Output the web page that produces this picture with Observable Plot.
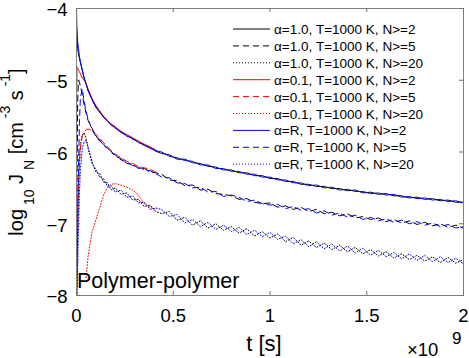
<!DOCTYPE html>
<html><head><meta charset="utf-8">
<script src="https://cdn.jsdelivr.net/npm/d3@7"></script>
<script src="https://cdn.jsdelivr.net/npm/@observablehq/plot@0.6"></script>
<style>body{margin:0;background:#fff;}</style>
</head><body><div id="chart"></div>
<script>
// time in units of 1e9 s
const time = [0, 0.003, 0.006, 0.01, 0.015, 0.02, 0.03, 0.04, 0.05, 0.06, 0.08, 0.10, 0.12, 0.14, 0.16, 0.18, 0.20, 0.23, 0.26, 0.29, 0.32, 0.35, 0.38, 0.41,
  0.44, 0.48, 0.52, 0.56, 0.60, 0.64, 0.68, 0.72, 0.76, 0.80, 0.84, 0.88, 0.92, 0.96, 1.00, 1.04, 1.08, 1.12, 1.16, 1.20,
  1.24, 1.28, 1.32, 1.36, 1.40, 1.44, 1.48, 1.52, 1.56, 1.60, 1.64, 1.68, 1.72, 1.76, 1.80, 1.84, 1.88, 1.92, 1.96, 2.00];

// alpha = 1.0
const a10_N2 = [-4.00, -4.42, -4.56, -4.63, -4.69, -4.75, -4.86, -4.98, -5.05, -5.15, -5.26, -5.38, -5.43, -5.52, -5.56, -5.63, -5.65, -5.73, -5.76, -5.82, -5.85, -5.91, -5.93, -5.99,
  -6.02, -6.04, -6.10, -6.10, -6.15, -6.16, -6.20, -6.21, -6.25, -6.25, -6.29, -6.29, -6.33, -6.33, -6.37, -6.37, -6.41, -6.41, -6.45, -6.45,
  -6.48, -6.48, -6.51, -6.51, -6.54, -6.53, -6.57, -6.56, -6.59, -6.58, -6.61, -6.61, -6.64, -6.63, -6.66, -6.65, -6.68, -6.67, -6.70, -6.70];
const a10_N5 = [-7.80, -6.40, -5.30, -5.00, -5.03, -5.08, -5.20, -5.35, -5.46, -5.56, -5.67, -5.77, -5.85, -5.89, -5.96, -5.99, -6.06, -6.09, -6.16, -6.17, -6.23, -6.23, -6.28, -6.29,
  -6.31, -6.39, -6.40, -6.47, -6.46, -6.53, -6.52, -6.58, -6.59, -6.61, -6.66, -6.65, -6.70, -6.72, -6.71, -6.77, -6.75, -6.80, -6.77, -6.83,
  -6.80, -6.86, -6.84, -6.89, -6.86, -6.92, -6.90, -6.94, -6.92, -6.97, -6.94, -6.99, -6.96, -7.01, -6.98, -7.03, -7.00, -7.05, -7.02, -7.06];
const a10_N20 = [-8.30, -7.50, -6.90, -6.40, -6.10, -5.90, -5.76, -5.73, -5.82, -5.95, -6.13, -6.28, -6.30, -6.42, -6.43, -6.53, -6.50, -6.59, -6.57, -6.67, -6.66, -6.76, -6.74, -6.83,
  -6.86, -6.83, -6.95, -6.91, -7.02, -6.96, -7.06, -7.00, -7.09, -7.04, -7.13, -7.07, -7.17, -7.11, -7.20, -7.14, -7.25, -7.19, -7.30, -7.24,
  -7.33, -7.27, -7.36, -7.30, -7.39, -7.33, -7.42, -7.36, -7.45, -7.39, -7.48, -7.42, -7.50, -7.44, -7.52, -7.46, -7.54, -7.47, -7.55, -7.50];

// alpha = 0.1 (shorter run)
const a01_N2 = [-5.30, -4.82, -4.83, -4.85, -4.88, -4.91, -4.97, -5.00, -5.05, -5.12, -5.25, -5.35, -5.43, -5.50, -5.56, -5.61, -5.65, -5.71, -5.76, -5.80, -5.85, -5.89, -5.93, -5.97];
const a01_N5 = [-8.20, -7.60, -7.10, -6.60, -6.20, -5.95, -5.78, -5.72, -5.69, -5.68, -5.70, -5.75, -5.81, -5.87, -5.93, -5.98, -6.03, -6.08, -6.13, -6.16, -6.20, -6.22, -6.24, -6.28];
const a01_N20 = [null, null, null, null, null, null, null, null, -7.75, -7.45, -7.12, -6.95, -6.78, -6.60, -6.50, -6.45, -6.44, -6.46, -6.49, -6.53, -6.60, -6.72, -6.77, -6.80];

// alpha = R
const aR_N2 = [-4.24, -4.36, -4.46, -4.56, -4.66, -4.74, -4.86, -4.97, -5.06, -5.14, -5.27, -5.37, -5.45, -5.51, -5.57, -5.62, -5.67, -5.72, -5.78, -5.81, -5.87, -5.90, -5.95, -5.98,
  -6.00, -6.06, -6.08, -6.12, -6.13, -6.18, -6.18, -6.23, -6.23, -6.27, -6.27, -6.31, -6.31, -6.35, -6.35, -6.39, -6.39, -6.43, -6.43, -6.47,
  -6.46, -6.50, -6.49, -6.53, -6.52, -6.55, -6.55, -6.58, -6.57, -6.60, -6.59, -6.63, -6.62, -6.65, -6.64, -6.67, -6.66, -6.69, -6.68, -6.71];
const aR_N5 = [-8.00, -7.60, -7.10, -6.30, -5.60, -5.25, -5.12, -5.30, -5.44, -5.54, -5.69, -5.78, -5.83, -5.91, -5.94, -6.01, -6.04, -6.11, -6.14, -6.19, -6.21, -6.25, -6.26, -6.30,
  -6.35, -6.36, -6.43, -6.44, -6.50, -6.49, -6.56, -6.55, -6.62, -6.60, -6.63, -6.69, -6.67, -6.72, -6.74, -6.73, -6.79, -6.76, -6.81, -6.79,
  -6.85, -6.82, -6.88, -6.85, -6.91, -6.88, -6.94, -6.91, -6.96, -6.93, -6.98, -6.95, -7.00, -6.97, -7.02, -6.99, -7.04, -7.01, -7.06, -7.04];
const aR_N20 = [-8.30, -8.00, -7.60, -7.10, -6.60, -6.25, -5.95, -5.85, -5.84, -5.93, -6.16, -6.24, -6.35, -6.37, -6.48, -6.47, -6.56, -6.53, -6.63, -6.61, -6.71, -6.70, -6.80, -6.78,
  -6.80, -6.90, -6.87, -6.99, -6.94, -7.04, -6.98, -7.08, -7.02, -7.11, -7.05, -7.15, -7.09, -7.18, -7.12, -7.22, -7.17, -7.28, -7.22, -7.32,
  -7.25, -7.35, -7.28, -7.38, -7.31, -7.41, -7.34, -7.44, -7.37, -7.46, -7.40, -7.49, -7.42, -7.51, -7.44, -7.53, -7.46, -7.54, -7.48, -7.56];

const legendLabels = [
  "α=1.0, T=1000 K, N>=2", "α=1.0, T=1000 K, N>=5", "α=1.0, T=1000 K, N>=20",
  "α=0.1, T=1000 K, N>=2", "α=0.1, T=1000 K, N>=5", "α=0.1, T=1000 K, N>=20",
  "α=R, T=1000 K, N>=2", "α=R, T=1000 K, N>=5", "α=R, T=1000 K, N>=20"];
const xTicks = [0, 0.5, 1, 1.5, 2];
const yTicks = [-8, -7, -6, -5, -4];
const annotation = "Polymer-polymer";
const xLabel = "t [s]";

const colors = ["#000000", "#ff0000", "#0000ff"];
const dashes = [null, "6,4", "1,2"];
const seriesValues = [a10_N2, a10_N5, a10_N20, a01_N2, a01_N5, a01_N20, aR_N2, aR_N5, aR_N20];
const series = seriesValues.map((values, k) => ({
  name: legendLabels[k], values, color: colors[Math.floor(k / 3)], dash: dashes[k % 3]
}));

const lineMarks = series.map(s => {
  const rows = s.values.map((v, i) => ({t: time[i], v})).filter(d => d.v != null);
  return Plot.line(rows, {x: "t", y: "v", stroke: s.color, strokeWidth: 1, strokeDasharray: s.dash, clip: true});
});

const W = 469, H = 358, ML = 76, MR = 6, MT = 8, MB = 63;
const iw = W - ML - MR, ih = H - MT - MB;
const minus = d => (d < 0 ? "\u2212" + Math.abs(d) : String(d));

const svg = Plot.plot({
  width: W, height: H, marginLeft: ML, marginRight: MR, marginTop: MT, marginBottom: MB,
  x: {domain: [0, 2]},
  y: {domain: [-8, -4]},
  style: {fontFamily: "'Liberation Sans', Arial, sans-serif", background: "#fff", color: "#000", overflow: "visible"},
  marks: [
    ...lineMarks,
    Plot.frame({stroke: "#808080", strokeWidth: 1}),
    Plot.tickX(xTicks, {x: d => d, insetTop: ih - 4, stroke: "#707070"}),
    Plot.tickX(xTicks, {x: d => d, insetBottom: ih - 4, stroke: "#707070"}),
    Plot.tickY(yTicks, {y: d => d, insetRight: iw - 4, stroke: "#707070"}),
    Plot.tickY(yTicks, {y: d => d, insetLeft: iw - 4, stroke: "#707070"}),
    Plot.axisX({ticks: xTicks, tickSize: 0, tickPadding: 13, fontSize: 18.5, label: null, tickFormat: d => String(d)}),
    Plot.axisY({ticks: yTicks, tickSize: 0, tickPadding: 9, dy: 2, fontSize: 18.5, label: null, tickFormat: minus})
  ]
});
document.getElementById("chart").appendChild(svg);

const g = d3.select(svg).append("g")
  .attr("font-family", "'Liberation Sans', Arial, sans-serif")
  .attr("fill", "#000").attr("text-anchor", "start");

// annotation
g.append("text").attr("x", 77).attr("y", 288).attr("font-size", 21.5).attr("text-anchor", "start").text(annotation);

// x label
g.append("text").attr("x", 264).attr("y", 351).attr("font-size", 22).attr("text-anchor", "middle").text(xLabel);
// x10^9 exponent
g.append("text").attr("x", 407).attr("y", 356).attr("font-size", 18.5).attr("text-anchor", "start").text("\u00d710");
g.append("text").attr("x", 452).attr("y", 344).attr("font-size", 17).attr("text-anchor", "start").text("9");

// y label: log_10 J_N [cm^-3 s^-1]
const yl = g.append("text").attr("transform", "translate(23,152) rotate(-90)").attr("text-anchor", "middle").attr("font-size", 20);
const parts = [["log", 0], ["10", 1], [" J", 0], ["N", 1], [" [cm", 0], ["-3", -1], [" s", 0], ["-1", -1], ["]", 0]];
let prevShift = 0;
for (const [txt, kind] of parts) {
  const shift = kind === 1 ? 11 : kind === -1 ? -13 : 0;
  yl.append("tspan").attr("dy", shift - prevShift).attr("font-size", kind === 0 ? 20 : 14).text(kind === 0 ? txt : " " + txt);
  prevShift = shift;
}

// legend
const lg = g.append("g").attr("font-size", 13.5).attr("text-anchor", "start");
series.forEach((s, k) => {
  const cy = 29 + k * 16.9;
  lg.append("line").attr("x1", 233).attr("x2", 270).attr("y1", cy).attr("y2", cy)
    .attr("stroke", s.color).attr("stroke-width", 1).attr("stroke-dasharray", s.dash);
  lg.append("text").attr("x", 274).attr("y", cy + 5).attr("text-anchor", "start").text(s.name);
});
</script>
</body></html>
